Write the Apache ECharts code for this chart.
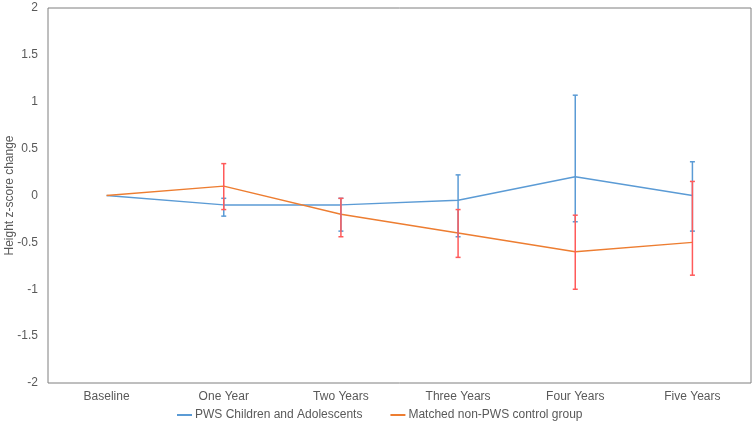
<!DOCTYPE html>
<html>
<head>
<meta charset="utf-8">
<script src="https://cdn.jsdelivr.net/npm/echarts@6/dist/echarts.min.js"></script>
<style>html,body{margin:0;padding:0;background:#fff}#c{width:754px;height:428px}</style>
</head>
<body>
<div id="c"></div>
<script>
var categories = ['Baseline', 'One Year', 'Two Years', 'Three Years', 'Four Years', 'Five Years'];
var yTicks = [-2, -1.5, -1, -0.5, 0, 0.5, 1, 1.5, 2];
var pwsName = 'PWS Children and Adolescents';
var ctlName = 'Matched non-PWS control group';
var pwsMean = [0, -0.1, -0.1, -0.05, 0.2, 0];
var pwsLow  = [null, -0.22, -0.38, -0.44, -0.28, -0.38];
var pwsHigh = [null, -0.03, -0.03, 0.22, 1.07, 0.36];
var ctlMean = [0, 0.1, -0.2, -0.4, -0.6, -0.5];
var ctlLow  = [null, -0.15, -0.44, -0.66, -1.0, -0.85];
var ctlHigh = [null, 0.34, -0.03, -0.15, -0.21, 0.15];

function errData(low, high) {
  var out = [];
  for (var i = 0; i < categories.length; i++) {
    if (low[i] !== null) out.push([i, low[i], high[i]]);
  }
  return out;
}
function errRender(color) {
  return function (params, api) {
    var x = api.value(0);
    var lo = api.coord([x, api.value(1)]);
    var hi = api.coord([x, api.value(2)]);
    var hw = 2.5;
    var st = { stroke: color, lineWidth: 1.5 };
    return {
      type: 'group',
      children: [
        { type: 'line', shape: { x1: lo[0], y1: lo[1], x2: hi[0], y2: hi[1] }, style: st },
        { type: 'line', shape: { x1: lo[0] - hw, y1: lo[1], x2: lo[0] + hw, y2: lo[1] }, style: st },
        { type: 'line', shape: { x1: hi[0] - hw, y1: hi[1], x2: hi[0] + hw, y2: hi[1] }, style: st }
      ]
    };
  };
}
var font = 'Liberation Sans, Arial, sans-serif';
var chart = echarts.init(document.getElementById('c'), null, { renderer: 'canvas' });
chart.setOption({
  animation: false,
  backgroundColor: '#fff',
  textStyle: { fontFamily: font },
  grid: { left: 48, top: 8, right: 3, bottom: 45, show: true, borderColor: '#7f7f7f', borderWidth: 1,
    containLabel: false, outerBoundsMode: 'none' },
  legend: {
    left: 172, top: 404,
    itemWidth: 15, itemHeight: 2, itemGap: 28,
    icon: 'rect',
    textStyle: { fontSize: 12, color: '#595959', fontFamily: font, padding: [0, 0, 0, -2] },
    data: [pwsName, ctlName]
  },
  xAxis: {
    type: 'category', data: categories, boundaryGap: true,
    axisLine: { show: false }, axisTick: { show: false },
    axisLabel: { color: '#595959', fontSize: 12, margin: 8, fontFamily: font }
  },
  yAxis: {
    type: 'value', min: -2, max: 2, interval: 0.5,
    name: 'Height z-score change', nameLocation: 'middle', nameGap: 32, nameRotate: 90,
    nameMoveOverlap: false,
    nameTextStyle: { color: '#595959', fontSize: 12, fontFamily: font },
    splitLine: { show: false }, axisLine: { show: false }, axisTick: { show: false },
    axisLabel: { color: '#595959', fontSize: 12, margin: 10, fontFamily: font,
      formatter: function (v) { return yTicks.indexOf(v) >= 0 ? String(v) : ''; } }
  },
  series: [
    { name: pwsName, type: 'line', data: pwsMean, symbol: 'none', z: 3,
      itemStyle: { color: '#5b9bd5' }, lineStyle: { color: '#5b9bd5', width: 1.5 } },
    { name: ctlName, type: 'line', data: ctlMean, symbol: 'none', z: 3,
      itemStyle: { color: '#ed7d31' }, lineStyle: { color: '#ed7d31', width: 1.5 } },
    { name: pwsName + ' err', type: 'custom', data: errData(pwsLow, pwsHigh), z: 4,
      renderItem: errRender('#5b9bd5'), encode: { x: 0, y: [1, 2] } },
    { name: ctlName + ' err', type: 'custom', data: errData(ctlLow, ctlHigh), z: 5,
      renderItem: errRender('#ff5a5a'), encode: { x: 0, y: [1, 2] } }
  ]
});
</script>
</body>
</html>
